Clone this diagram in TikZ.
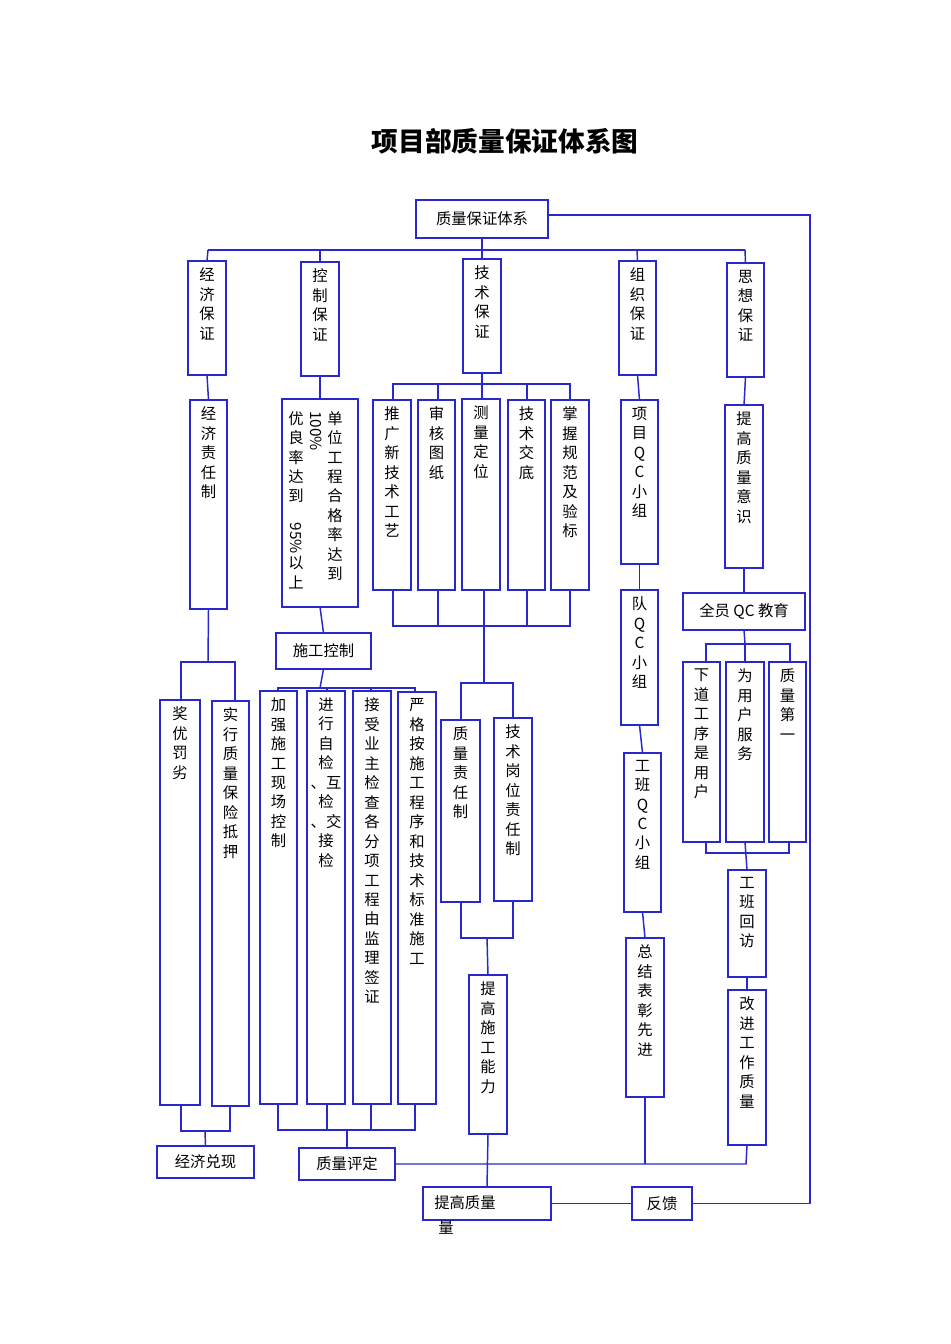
\documentclass[tikz,border=0pt]{standalone}
\usepackage{fontspec}
\setmainfont{Noto Sans CJK SC}
\definecolor{ln}{RGB}{40,40,205}
\newcommand\bx[6]{\node[box,minimum width={(#4-#2)*0.75pt},minimum height={(#5-#3)*0.75pt}] (#1) at ({(#2+#4)/2},{(#3+#5)/2}) {};
 \node[vt,anchor=north] (#1t) at ([yshift=-5pt]#1.north) {#6};}
\newcommand\hb[6]{\node[box,minimum width={(#4-#2)*0.75pt},minimum height={(#5-#3)*0.75pt}] (#1) at ({(#2+#4)/2},{(#3+#5)/2}) {};
 \node[ht] (#1t) at (#1.center) {#6};}
\begin{document}
\begin{tikzpicture}[x=0.75pt,y=-0.75pt,
 box/.style={draw=ln,line width=1.1pt,inner sep=0pt,outer sep=0pt},
 vt/.style={align=center,inner sep=0pt,font=\fontsize{11.5}{14.6}\selectfont},
 ht/.style={inner sep=0pt,font=\fontsize{11.5}{14}\selectfont},
 w/.style={draw=ln,line width=1.1pt}]
\useasboundingbox[fill=white] (0,0) rectangle (950,1344);
\node[font=\fontsize{20}{24}\selectfont\bfseries] (title) at (505,141) {项目部质量保证体系图};
\hb{top}{416}{200}{548}{238}{质量保证体系}
\bx{a1}{188}{261}{226}{375}{经\\济\\保\\证}
\bx{a2}{301}{262}{339}{376}{控\\制\\保\\证}
\bx{a3}{463}{259}{501}{373}{技\\术\\保\\证}
\bx{a4}{619}{261}{656}{375}{组\\织\\保\\证}
\bx{a5}{727}{263}{764}{377}{思\\想\\保\\证}
\draw[w] (top.south) -- (482,250);
\draw[w] (208,250) -- (745,250);
\foreach \n/\x in {a1/208,a2/320,a3/482,a4/637,a5/745} \draw[w] (\x,250) -- (\n.north);
% economy
\bx{b1}{190}{400}{227}{609}{经\\济\\责\\任\\制}
\draw[w] (a1.south) -- (b1.north);
\bx{e1}{160}{700}{200}{1105}{奖\\优\\罚\\劣}
\bx{e2}{212}{701}{249}{1106}{实\\行\\质\\量\\保\\险\\抵\\押}
\draw[w] (b1.south) -- (208,662);
\draw[w] (181,700) -- (181,662) -- (235,662) -- (235,701);
\draw[w] (181,1105) -- (181,1131) -- (230,1131) -- (230,1106);
\hb{f1}{157}{1146}{254}{1178}{经济兑现}
\draw[w] (205,1131) -- (f1.north);
% control
\node[box,minimum width={76*0.75pt},minimum height={208*0.75pt}] (b2) at (320,503) {};
\node[vt,anchor=north] (b2a) at (335,411) {单\\位\\工\\程\\合\\格\\率\\达\\到};
\node[inner sep=0pt,rotate=-90,anchor=west,font=\fontsize{11.5}{14}\selectfont] (b2b) at (316,411) {100\%};
\node[vt,anchor=north] (b2c) at (296,411) {优\\良\\率\\达\\到\\[1pt]\rotatebox{-90}{95\%}\\[1pt]以\\上};
\draw[w] (a2.south) -- (b2.north);
\hb{c2}{276}{633}{371}{669}{施工控制}
\draw[w] (b2.south) -- (c2.north);
\bx{d1}{260}{691}{297}{1104}{加\\强\\施\\工\\现\\场\\控\\制}
\bx{d2}{307}{691}{345}{1104}{进\\行\\自\\检\\、互\\检\\、交\\接\\检}
\bx{d3}{353}{691}{391}{1104}{接\\受\\业\\主\\检\\查\\各\\分\\项\\工\\程\\由\\监\\理\\签\\证}
\bx{d4}{398}{692}{436}{1104}{严\\格\\按\\施\\工\\程\\序\\和\\技\\术\\标\\准\\施\\工}
\draw[w] (c2.south) -- (320,688);
\draw[w] (278,691) -- (278,688) -- (415,688) -- (415,692);
\draw[w] (327,688) -- (327,691) (371,688) -- (371,691);
\draw[w] (278,1104) -- (278,1130) -- (415,1130) -- (415,1104);
\draw[w] (327,1104) -- (327,1130) (371,1104) -- (371,1130);
\hb{f2}{299}{1148}{395}{1180}{质量评定}
\draw[w] (347,1130) -- (f2.north);
% technology
\bx{t1}{373}{400}{411}{590}{推\\广\\新\\技\\术\\工\\艺}
\bx{t2}{418}{400}{455}{590}{审\\核\\图\\纸}
\bx{t3}{462}{399}{500}{590}{测\\量\\定\\位}
\bx{t4}{508}{400}{545}{590}{技\\术\\交\\底}
\bx{t5}{551}{400}{589}{590}{掌\\握\\规\\范\\及\\验\\标}
\draw[w] (a3.south) -- (482,384);
\draw[w] (393,400) -- (393,384) -- (570,384) -- (570,400);
\foreach \x in {438,482,527} \draw[w] (\x,384) -- (\x,400);
\draw[w] (393,590) -- (393,626) -- (570,626) -- (570,590);
\foreach \x in {438,527} \draw[w] (\x,590) -- (\x,626);
\draw[w] (484,590) -- (484,683);
\bx{q1}{441}{720}{480}{902}{质\\量\\责\\任\\制}
\bx{q2}{494}{718}{532}{901}{技\\术\\岗\\位\\责\\任\\制}
\draw[w] (461,720) -- (461,683) -- (513,683) -- (513,718);
\draw[w] (461,902) -- (461,938) -- (513,938) -- (513,901);
\bx{r1}{469}{975}{507}{1134}{提\\高\\施\\工\\能\\力}
\draw[w] (487,938) -- (r1.north);
\node[box,minimum width={128*0.75pt},minimum height={33*0.75pt}] (g1) at (487,1203.5) {};
\node[ht,anchor=west] (g1t) at (434,1203) {提高质量};
\node[ht] (g1u) at (446,1228) {量};
\draw[w] (r1.south) -- (g1.north);
% organisation
\bx{o1}{621}{400}{658}{564}{项\\目\\Q\\C\\小\\组}
\bx{o2}{621}{590}{658}{725}{队\\Q\\C\\小\\组}
\bx{o3}{624}{753}{661}{912}{工\\班\\Q\\C\\小\\组}
\bx{o4}{626}{938}{664}{1097}{总\\结\\表\\彰\\先\\进}
\draw[w] (a4.south) -- (o1.north);
\draw[w] (o1.south) -- (o2.north);
\draw[w] (o2.south) -- (o3.north);
\draw[w] (o3.south) -- (o4.north);
% thought
\bx{s1}{725}{405}{763}{568}{提\\高\\质\\量\\意\\识}
\hb{s2}{683}{593}{805}{630}{全员 QC 教育}
\bx{u1}{683}{662}{720}{842}{下\\道\\工\\序\\是\\用\\户}
\bx{u2}{726}{662}{764}{842}{为\\用\\户\\服\\务}
\bx{u3}{769}{662}{806}{842}{质\\量\\第\\一}
\bx{v1}{728}{870}{766}{977}{工\\班\\回\\访}
\bx{v2}{728}{990}{766}{1145}{改\\进\\工\\作\\质\\量}
\draw[w] (a5.south) -- (s1.north);
\draw[w] (s1.south) -- (s2.north);
\draw[w] (s2.south) -- (745,644);
\draw[w] (706,662) -- (706,644) -- (790,644) -- (790,662);
\draw[w] (745,644) -- (745,662);
\draw[w] (706,842) -- (706,853) -- (789,853) -- (789,842);
\draw[w] (745,842) -- (v1.north);
\draw[w] (v1.south) -- (v2.north);
% bottom
\draw[w] (f2.east) -- (746,1164) -- (v2.south);
\draw[w] (o4.south) -- (645,1164);
\hb{fb}{632}{1187}{692}{1220}{反馈}
\draw[w] (g1.east) -- (fb.west);
\draw[w] (fb.east) -- (810,1203.5) -- (810,215) -- (548,215);
\end{tikzpicture}
\end{document}
